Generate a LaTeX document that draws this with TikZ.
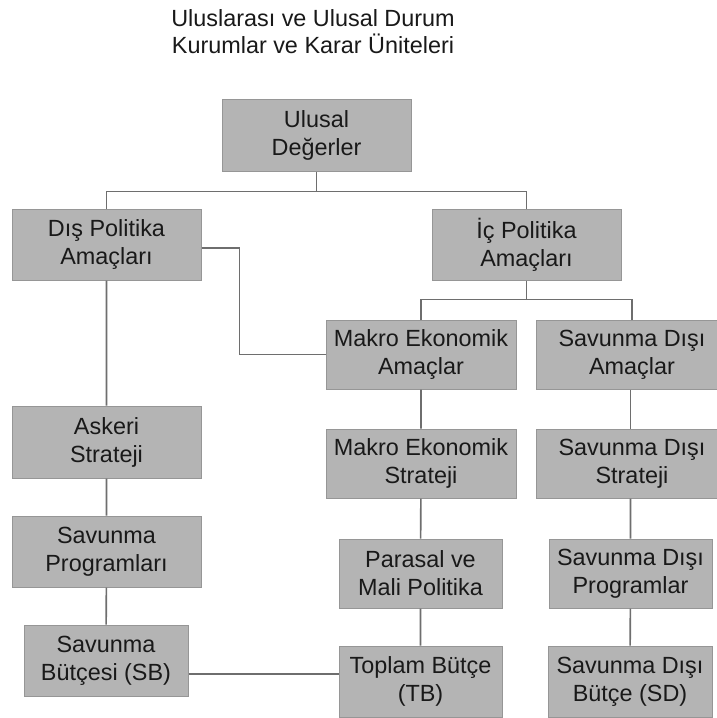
\documentclass[tikz,border=0pt]{standalone}
\usepackage{fontspec}
\setmainfont{Liberation Sans}
\usepackage{tikz}
\usetikzlibrary{calc}
\definecolor{boxgray}{RGB}{180,180,180}
\definecolor{edgegray}{RGB}{150,150,150}
\definecolor{linegray}{RGB}{110,110,110}
\definecolor{textgray}{RGB}{25,25,25}
\tikzset{
	kutu/.style={draw=edgegray, fill=boxgray, line width=1pt, align=center, inner sep=0pt,
		text=textgray, font=\fontsize{23.4}{28}\selectfont},
	bag/.style={draw=linegray, line width=1.6pt}
}

\begin{document}
\begin{tikzpicture}[x=1pt, y=-1pt]
			%%%%% START %%%%%
			
			\clip (0, 0) rectangle (717, 718);
			\fill[white] (0, 0) rectangle (717, 718);
			
			\node[align=center, text=textgray, font=\fontsize{23.4}{27}\selectfont] (baslik) at (313, 31.5)
				{Uluslarası ve Ulusal Durum\\Kurumlar ve Karar Üniteleri};
			
			\node[kutu, minimum width=189, minimum height=72] (ulusal) at (316.5, 135) {Ulusal\\Değerler};
			
			\node[kutu, minimum width=189, minimum height=71] (dis) at (106.5, 244.5) {Dış Politika\\Amaçları};
			\node[kutu, minimum width=189, minimum height=71] (ic) at (526.5, 244.5) {İç Politika\\Amaçları};
			
			\node[kutu, minimum width=190, minimum height=69] (makroA) at (421, 354.5) {Makro Ekonomik\\Amaçlar};
			\node[kutu, minimum width=192, minimum height=69] (savdA) at (632, 354.5) {Savunma Dışı\\Amaçlar};
			
			\node[kutu, minimum width=189, minimum height=72] (askeri) at (106.5, 442) {Askeri\\Strateji};
			\node[kutu, minimum width=190, minimum height=69] (makroS) at (421, 463.5) {Makro Ekonomik\\Strateji};
			\node[kutu, minimum width=192, minimum height=69] (savdS) at (632, 463.5) {Savunma Dışı\\Strateji};
			
			\node[kutu, minimum width=189, minimum height=71] (savP) at (106.5, 551.5) {Savunma\\Programları};
			\node[kutu, minimum width=163, minimum height=69] (parasal) at (420.5, 573.5) {Parasal ve\\Mali Politika};
			\node[kutu, minimum width=163, minimum height=69] (savdP) at (630.5, 573.5) {Savunma Dışı\\Programlar};
			
			\node[kutu, minimum width=164, minimum height=71] (sb) at (106, 660.5) {Savunma\\Bütçesi (SB)};
			\node[kutu, minimum width=163, minimum height=71] (tb) at (420.5, 681.5) {Toplam Bütçe\\(TB)};
			\node[kutu, minimum width=164, minimum height=71] (sd) at (630, 681.5) {Savunma Dışı\\Bütçe (SD)};
			
			% ust dallar
			\draw[bag] (ulusal.south) -- ++(0, 20) coordinate (j1);
			\draw[bag] (dis.north) |- (j1) -| (ic.north);
			\draw[bag] (ic.south) -- ++(0, 19) coordinate (j2);
			\draw[bag] (makroA.north) |- (j2) -| (savdA.north);
			\draw[bag] ([yshift=-3.5pt]dis.east) -- ++(38, 0) |- (makroA.west);
			
			% sutunlar
			\draw[bag] (dis) -- (askeri) -- (savP) -- (sb);
			\draw[bag] (makroA) -- (makroS) -- (parasal) -- (tb);
			\draw[bag] (savdA.south -| savdP) -- (savdS.north -| savdP);
			\draw[bag] (savdS.south -| savdP) -- (savdP) -- (sd);
			
			\draw[bag] ([yshift=-13.5pt]sb.east) -- ([yshift=-13.5pt]sb.east -| tb.west);
			
			%%%%% END %%%%%
		\end{tikzpicture}
\end{document}
